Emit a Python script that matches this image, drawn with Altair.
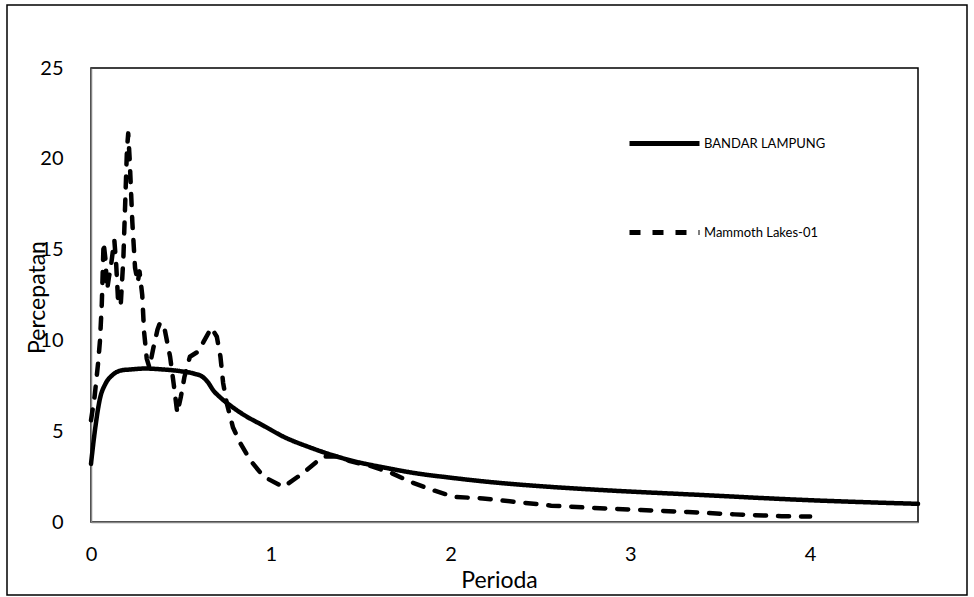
import altair as alt
import pandas as pd

series_names = ["BANDAR LAMPUNG", "Mammoth Lakes-01"]
x_ticks = [0, 1, 2, 3, 4]
y_ticks = [0, 5, 10, 15, 20, 25]

solid_T = [0.0, 0.02, 0.05, 0.08, 0.12, 0.17, 0.22, 0.3, 0.4, 0.5, 0.58, 0.62, 0.65, 0.68,
           0.72, 0.77, 0.85, 0.96, 1.07, 1.22, 1.44, 1.63, 1.81, 2.0, 2.18, 2.37,
           2.56, 2.84, 3.39, 3.95, 4.6]
solid_S = [3.2, 4.9, 6.8, 7.6, 8.1, 8.35, 8.4, 8.45, 8.4, 8.3, 8.15, 8.0, 7.7, 7.25,
           6.85, 6.45, 5.9, 5.3, 4.7, 4.1, 3.4, 3.0, 2.68, 2.44, 2.24, 2.07,
           1.93, 1.76, 1.49, 1.22, 1.0]

dash_T = [0.0, 0.02, 0.04, 0.05, 0.06, 0.07, 0.08, 0.09, 0.1, 0.11, 0.12, 0.13, 0.14,
          0.15, 0.165, 0.18, 0.19, 0.2, 0.207, 0.215, 0.23, 0.245, 0.26, 0.27, 0.285,
          0.295, 0.31, 0.325, 0.345, 0.37, 0.385, 0.41, 0.44, 0.46, 0.48, 0.5, 0.52,
          0.55, 0.59, 0.625, 0.67, 0.7, 0.72, 0.735, 0.755, 0.79, 0.83, 0.886, 0.96,
          1.07, 1.18, 1.29, 1.37, 1.44, 1.55, 1.67, 1.78, 1.9, 2.02, 2.18, 2.37, 2.56,
          2.8, 3.06, 3.32, 3.58, 3.84, 4.0]
dash_S = [5.6, 6.9, 8.8, 10.0, 12.0, 15.4, 14.5, 12.8, 13.5, 14.0, 14.8, 15.5, 14.2,
          12.3, 11.9, 14.5, 17.5, 20.5, 21.4, 20.0, 16.5, 14.0, 13.2, 13.8, 12.5,
          10.5, 9.0, 8.5, 9.5, 10.6, 11.0, 10.6, 9.1, 7.6, 6.0, 6.9, 8.0,
          9.1, 9.35, 9.9, 10.7, 10.2, 9.1, 7.65, 6.55, 5.2, 4.35, 3.4, 2.5,
          1.93, 2.7, 3.6, 3.6, 3.35, 3.1, 2.7, 2.2, 1.76, 1.38, 1.3, 1.1, 0.9,
          0.77, 0.66, 0.55, 0.42, 0.32, 0.3]

df_solid = pd.DataFrame({"Perioda": solid_T, "Percepatan": solid_S,
                         "Series": series_names[0], "order": list(range(len(solid_T)))})
df_dash = pd.DataFrame({"Perioda": dash_T, "Percepatan": dash_S,
                        "Series": series_names[1], "order": list(range(len(dash_T)))})

x_enc = alt.X("Perioda:Q",
              scale=alt.Scale(domain=[0, 4.6], nice=False, zero=True),
              axis=alt.Axis(values=x_ticks, title="Perioda", labelPadding=22, labelFlush=False,
                            titleX=408, titleY=58, titleBaseline="middle", titleAlign="center"))
y_enc = alt.Y("Percepatan:Q",
              scale=alt.Scale(domain=[0, 25], nice=False),
              axis=alt.Axis(values=y_ticks, title="Percepatan", labelPadding=28, labelFlush=False,
                            titleX=-54, titleY=229, titleAngle=-90,
                            titleBaseline="middle", titleAlign="center"))
dash_enc = alt.StrokeDash(
    "Series:N",
    scale=alt.Scale(domain=series_names, range=[[1, 0], [11, 12]]),
    legend=alt.Legend(title=None, orient="none", legendX=536, legendY=38,
                      symbolType="stroke", symbolSize=4900, symbolStrokeWidth=5,
                      symbolStrokeColor="black", labelFont="Lato", labelFontSize=13,
                      labelColor="black", rowPadding=41, labelOffset=2, padding=0))

solid = alt.Chart(df_solid).mark_line(
    strokeWidth=4.5, strokeCap="round", strokeJoin="round", color="black",
    interpolate="monotone"
).encode(x=x_enc, y=y_enc, strokeDash=dash_enc, order="order:Q")

dashed = alt.Chart(df_dash).mark_line(
    strokeWidth=4.5, strokeCap="round", strokeJoin="round", color="black"
).encode(x=x_enc, y=y_enc, strokeDash=dash_enc, order="order:Q")

border = alt.Chart(pd.DataFrame({"a": [0]})).mark_rect(
    filled=False, stroke="black", strokeWidth=1.5
).encode(
    x=alt.value(-84), y=alt.value(-63), x2=alt.value(876), y2=alt.value(527)
)

chart = alt.layer(border, solid, dashed).properties(
    width=827, height=454,
    autosize=alt.AutoSizeParams(type="none"),
    padding={"left": 91, "top": 68, "right": 56, "bottom": 75},
    background="white",
).configure_view(
    stroke="black", strokeWidth=1.5
).configure_axis(
    grid=False, ticks=False, domainColor="#868686", domainWidth=1.5,
    labelFont="Lato", labelFontSize=20, labelColor="black",
    titleFont="Lato", titleFontSize=23, titleFontWeight="normal", titleColor="black",
)

chart.save("out.html", embed_options={"renderer": "svg", "actions": False})
